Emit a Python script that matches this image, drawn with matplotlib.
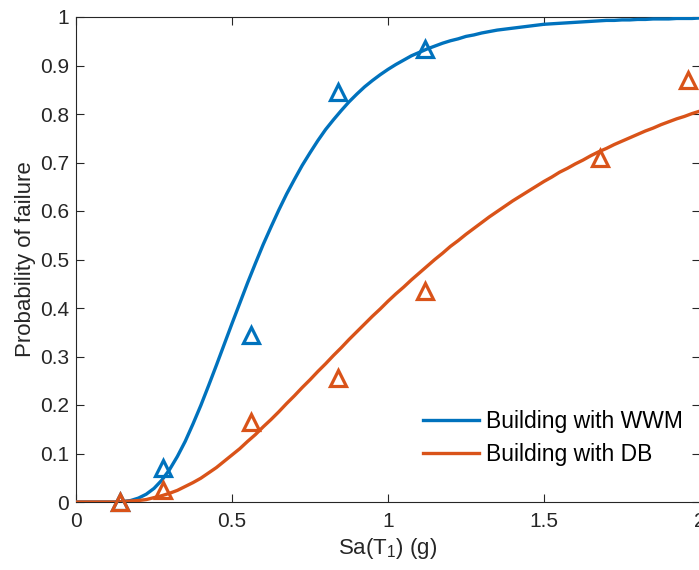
import matplotlib
matplotlib.use("Agg")
import matplotlib.pyplot as plt
from matplotlib.lines import Line2D

# ---- data ----
im_points = [0.14, 0.28, 0.56, 0.84, 1.12]
wwm_points = [0.0, 0.07, 0.345, 0.845, 0.935]

db_im_points = [0.14, 0.28, 0.56, 0.84, 1.12, 1.68, 1.96]
db_points = [0.0, 0.025, 0.165, 0.255, 0.435, 0.71, 0.87]

curve_x = [round(i * 0.025, 3) for i in range(81)]
wwm_curve = [0.000, 0.000, 0.000, 0.000, 0.000, 0.000, 0.001, 0.003, 0.008, 0.016,
             0.028, 0.045, 0.067, 0.094, 0.125, 0.161, 0.199, 0.240, 0.282, 0.325,
             0.368, 0.410, 0.452, 0.492, 0.531, 0.567, 0.602, 0.635, 0.665, 0.694,
             0.720, 0.745, 0.768, 0.788, 0.807, 0.825, 0.841, 0.856, 0.869, 0.881,
             0.892, 0.902, 0.911, 0.920, 0.927, 0.934, 0.940, 0.946, 0.951, 0.955,
             0.960, 0.963, 0.967, 0.970, 0.973, 0.975, 0.977, 0.979, 0.981, 0.983,
             0.985, 0.986, 0.987, 0.988, 0.989, 0.990, 0.991, 0.992, 0.993, 0.993,
             0.994, 0.994, 0.995, 0.995, 0.996, 0.996, 0.996, 0.997, 0.997, 0.997,
             0.998]
db_curve = [0.000, 0.000, 0.000, 0.000, 0.000, 0.000, 0.001, 0.002, 0.003, 0.005,
            0.009, 0.013, 0.018, 0.024, 0.032, 0.040, 0.049, 0.060, 0.071, 0.084,
            0.097, 0.110, 0.125, 0.139, 0.155, 0.170, 0.186, 0.203, 0.219, 0.236,
            0.252, 0.269, 0.285, 0.302, 0.318, 0.335, 0.351, 0.367, 0.383, 0.398,
            0.414, 0.429, 0.443, 0.458, 0.472, 0.486, 0.500, 0.513, 0.527, 0.539,
            0.552, 0.564, 0.576, 0.588, 0.599, 0.610, 0.621, 0.631, 0.641, 0.651,
            0.661, 0.670, 0.680, 0.688, 0.697, 0.705, 0.714, 0.722, 0.729, 0.737,
            0.744, 0.751, 0.758, 0.765, 0.771, 0.778, 0.784, 0.790, 0.795, 0.801,
            0.806]

labels = ["Building with WWM", "Building with DB"]
x_ticks = [0, 0.5, 1, 1.5, 2]
x_ticklabels = ["0", "0.5", "1", "1.5", "2"]
y_ticks = [i / 10 for i in range(11)]
y_ticklabels = ["0", "0.1", "0.2", "0.3", "0.4", "0.5", "0.6", "0.7", "0.8", "0.9", "1"]

BLUE = "#0072BD"
ORANGE = "#D95319"
AXC = "#262626"

plt.rcParams["font.family"] = ["Liberation Sans", "DejaVu Sans"]
plt.rcParams["mathtext.fontset"] = "custom"
plt.rcParams["mathtext.rm"] = "Liberation Sans"
plt.rcParams["mathtext.it"] = "Liberation Sans:italic"

fig = plt.figure(figsize=(6.99, 5.70), dpi=100)
ax = fig.add_axes([76 / 699, 68 / 570, 624 / 699, 485 / 570])

ax.plot(curve_x, wwm_curve, color=BLUE, lw=2.4, zorder=3, solid_capstyle="butt")
ax.plot(curve_x, db_curve, color=ORANGE, lw=2.4, zorder=3, solid_capstyle="butt")
ax.plot(im_points, wwm_points, linestyle="none", marker="^", ms=11, mew=2.3,
        mfc="none", mec=BLUE, zorder=4, clip_on=False)
ax.plot(db_im_points, db_points, linestyle="none", marker="^", ms=11, mew=2.3,
        mfc="none", mec=ORANGE, zorder=4, clip_on=False)

ax.set_xlim(0, 2)
ax.set_ylim(0, 1)
ax.set_xticks(x_ticks)
ax.set_xticklabels(x_ticklabels)
ax.set_yticks(y_ticks)
ax.set_yticklabels(y_ticklabels)
ax.tick_params(direction="in", length=6, width=0.8, colors=AXC, labelsize=15,
               top=True, right=True, pad=7)
ax.tick_params(axis="y", pad=5)
for s in ax.spines.values():
    s.set_color(AXC)
    s.set_linewidth(0.8)

ax.set_xlabel("Sa(T$_1$) (g)", fontsize=16, color=AXC, labelpad=4)
ax.set_ylabel("Probability of failure", fontsize=16, color=AXC, labelpad=3)

handles = [Line2D([], [], color=BLUE, lw=2.4), Line2D([], [], color=ORANGE, lw=2.4)]
leg = ax.legend(handles, labels, loc="lower right", bbox_to_anchor=(1.005, 0.031),
                frameon=False, fontsize=16.5, handlelength=2.45, handletextpad=0.28,
                labelspacing=0.45)
for t in leg.get_texts():
    t.set_color("black")

fig.savefig("out.png", dpi=100)
